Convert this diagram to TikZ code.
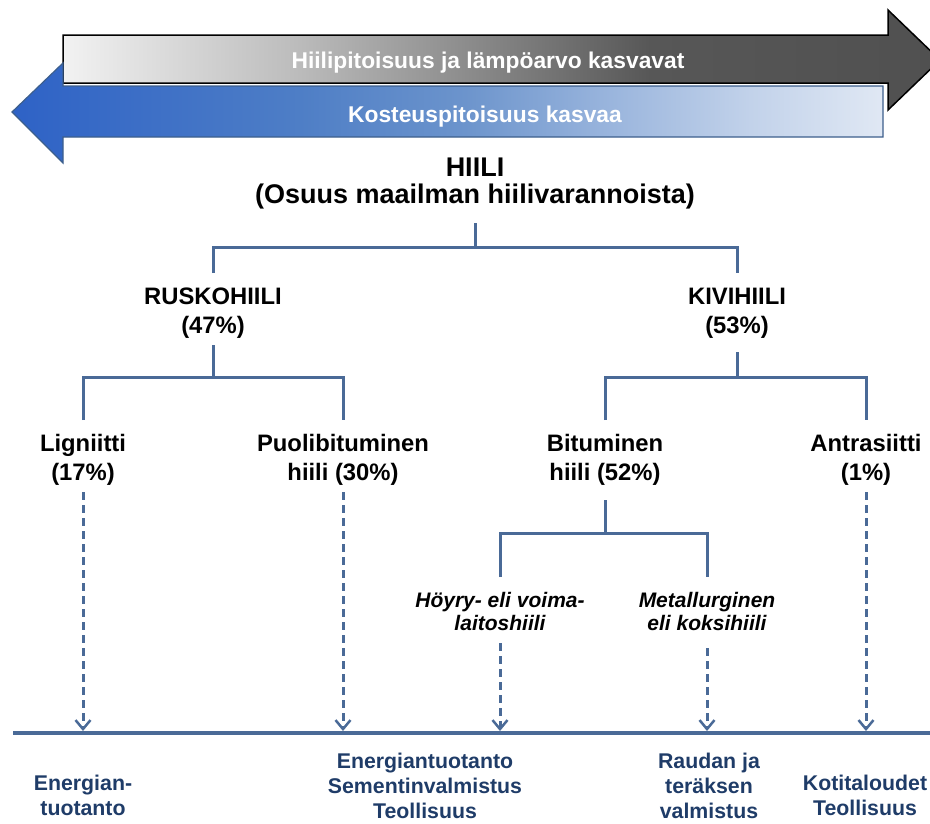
\documentclass[tikz,border=0pt]{standalone}
\usepackage{fontspec}
\setmainfont{Liberation Sans}
\usetikzlibrary{arrows.meta}
\definecolor{linec}{HTML}{4A6A97}
\definecolor{labc}{HTML}{1F3C68}
\definecolor{outl}{HTML}{3D5F8C}
\definecolor{g0}{HTML}{F2F2F2}
\definecolor{g1}{HTML}{BBBBBB}
\definecolor{g2}{HTML}{8C8C8C}
\definecolor{g3}{HTML}{575757}
\definecolor{g4}{HTML}{505050}
\definecolor{b0}{HTML}{2E62C6}
\definecolor{b1}{HTML}{4E7EC6}
\definecolor{b2}{HTML}{6C94CC}
\definecolor{b3}{HTML}{97B3DC}
\definecolor{b4}{HTML}{C2D2EA}
\definecolor{b5}{HTML}{E0E8F4}
\pgfdeclarehorizontalshading{grayshade}{100bp}{color(0bp)=(g0); color(25bp)=(g0); color(38.5bp)=(g1); color(48bp)=(g2); color(58.5bp)=(g3); color(75bp)=(g4); color(100bp)=(g4)}
\pgfdeclarehorizontalshading{blueshade}{100bp}{color(0bp)=(b0); color(25bp)=(b0); color(41.5bp)=(b1); color(51bp)=(b2); color(58.8bp)=(b3); color(67.4bp)=(b4); color(75bp)=(b5); color(100bp)=(b5)}
\tikzset{
  arrtext/.style={text=white, font=\fontsize{22.8}{26}\selectfont\bfseries, anchor=base, inner sep=0pt},
  titlelbl/.style={align=center, font=\fontsize{27}{27}\selectfont\bfseries, inner sep=0pt},
  lbl/.style={align=center, font=\fontsize{23.8}{29}\selectfont\bfseries, inner sep=0pt},
  ilbl/.style={align=center, font=\fontsize{21}{23}\selectfont\bfseries\itshape, inner sep=0pt},
  blbl/.style={align=center, text=labc, font=\fontsize{21.3}{25}\selectfont\bfseries, inner sep=0pt},
  tree/.style={draw=linec, line width=3pt},
  baseln/.style={draw=linec, line width=4pt},
  dasharr/.style={draw=linec, line width=3pt, dash pattern=on 8pt off 5pt, -{Straight Barb[length=9pt,width=15pt,line width=2.5pt]}}
}
\begin{document}
\begin{tikzpicture}[x=1pt,y=-1pt]
\useasboundingbox (0,0) rectangle (930,823);
% top arrows
\path[shading=grayshade, draw=black, line width=1.5pt] (63,35) -- (888,35) -- (888,10) -- (940,60) -- (888,110) -- (888,83) -- (63,83) -- cycle;
\path[shading=blueshade, draw=outl, line width=1.2pt] (12,112) -- (63,63) -- (63,86) -- (883,86) -- (883,137) -- (63,137) -- (63,163) -- cycle;
\node[arrtext] (t1) at (488,68) {Hiilipitoisuus ja lämpöarvo kasvavat};
\node[arrtext] (t2) at (485,122) {Kosteuspitoisuus kasvaa};
% labels
\node[titlelbl] (hiili) at (475,183.5) {HIILI\\(Osuus maailman hiilivarannoista)};
\node[lbl] (rusko) at (213,313) {RUSKOHIILI\\(47\%)};
\node[lbl] (kivi) at (737,313) {KIVIHIILI\\(53\%)};
\node[lbl] (lig) at (83,460) {Ligniitti\\(17\%)};
\node[lbl] (puoli) at (343,460) {Puolibituminen\\hiili (30\%)};
\node[lbl] (bitu) at (605,460) {Bituminen\\hiili (52\%)};
\node[lbl] (antra) at (866,460) {Antrasiitti\\(1\%)};
\node[ilbl] (hoyry) at (500,611.5) {Höyry- eli voima-\\laitoshiili};
\node[ilbl] (metal) at (707,611.5) {Metallurginen\\eli koksihiili};
% tree connectors
\draw[tree] (hiili |- 0,223) -- (hiili |- 0,247);
\draw[tree] (rusko |- 0,273) -- (rusko |- 0,247) -- (kivi |- 0,247) -- (kivi |- 0,273);
\draw[tree] (rusko |- 0,345) -- (rusko |- 0,377);
\draw[tree] (lig |- 0,420) -- (lig |- 0,377) -- (puoli |- 0,377) -- (puoli |- 0,420);
\draw[tree] (kivi |- 0,352) -- (kivi |- 0,377);
\draw[tree] (bitu |- 0,420) -- (bitu |- 0,377) -- (antra |- 0,377) -- (antra |- 0,420);
\draw[tree] (bitu |- 0,500) -- (bitu |- 0,533);
\draw[tree] (hoyry |- 0,577) -- (hoyry |- 0,533) -- (metal |- 0,533) -- (metal |- 0,577);
% base line
\coordinate (bl) at (13,733);
\coordinate (br) at (930,733);
\draw[baseln] (bl) -- (br);
% dashed arrows
\draw[dasharr] (lig |- 0,492) -- (lig |- 0,731);
\draw[dasharr] (puoli |- 0,492) -- (puoli |- 0,731);
\draw[dasharr] (hoyry |- 0,643) -- (hoyry |- 0,731);
\draw[dasharr] (metal |- 0,648) -- (metal |- 0,731);
\draw[dasharr] (antra |- 0,492) -- (antra |- 0,731);
% bottom labels
\node[blbl] (e1) at (83,795) {Energian-\\tuotanto};
\node[blbl] (e2) at (425,785.5) {Energiantuotanto\\Sementinvalmistus\\Teollisuus};
\node[blbl] (e3) at (709,785.5) {Raudan ja\\teräksen\\valmistus};
\node[blbl] (e4) at (865,795) {Kotitaloudet\\Teollisuus};
\end{tikzpicture}
\end{document}
